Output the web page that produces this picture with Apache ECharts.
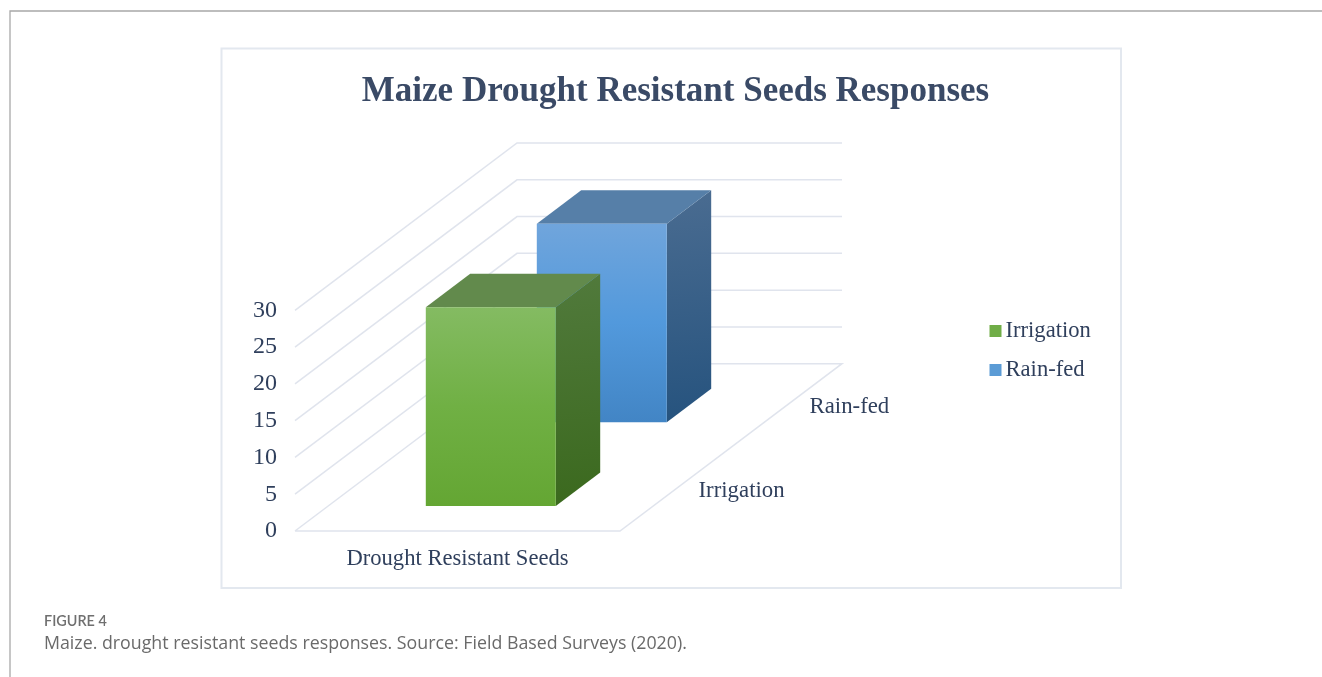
<!DOCTYPE html>
<html>
<head>
<meta charset="utf-8">
<style>html,body{margin:0;padding:0;background:#fff}#c{width:1322px;height:677px}</style>
<script src="https://cdn.jsdelivr.net/npm/echarts@6/dist/echarts.min.js"></script>
</head>
<body>
<div id="c"></div>
<script>
const chartTitle = 'Maize Drought Resistant Seeds Responses';
const categories = ['Drought Resistant Seeds'];
const depthCategories = ['Irrigation', 'Rain-fed'];
const irrigationValues = [27];
const rainFedValues = [27];
const yTicks = [0, 5, 10, 15, 20, 25, 30];
const figureLabel = 'FIGURE 4';
const captionText = 'Maize. drought resistant seeds responses. Source: Field Based Surveys (2020).';

const TEXT = '#2f3f5c';
const SERIF = '"Liberation Serif", serif';
const DEPTH_DX = 222, DEPTH_DY = -167.3;   // screen shift of the full floor depth
const BAR_WIDTH = 0.4, BAR_DEPTH = 0.2;    // fractions of the floor's width / depth
const vGrad = (stops) => new echarts.graphic.LinearGradient(0, 0, 0, 1, stops.map((c, i) => ({offset: i / (stops.length - 1), color: c})));
const dGrad = (a, b) => new echarts.graphic.LinearGradient(0, 0, 0.5, 1, [{offset: 0, color: a}, {offset: 1, color: b}]);

const project = (api, xFrac, value, z) => {
  const p = api.coord([0, value]);
  const bw = api.size([1, 0])[0];
  return [p[0] + (xFrac - 0.5) * bw + z * DEPTH_DX, p[1] + z * DEPTH_DY];
};
const depthCentre = (i) => (i + 0.5) / depthCategories.length;

function renderWall(params, api) {
  const v = api.value(0);
  const pts = [project(api, 0, v, 0), project(api, 0, v, 1), project(api, 1, v, 1)];
  if (v === 0) pts.push(project(api, 1, 0, 0), project(api, 0, 0, 0));
  return {type: 'polyline', shape: {points: pts}, silent: true,
    style: {stroke: '#e0e4ed', lineWidth: 1.5, fill: null}};
}

function barRenderer(face) {
  return function (params, api) {
    const value = api.value(1);
    const zc = depthCentre(api.value(2));
    const x0 = 0.5 - BAR_WIDTH / 2, x1 = 0.5 + BAR_WIDTH / 2;
    const z0 = zc - BAR_DEPTH / 2, z1 = zc + BAR_DEPTH / 2;
    const P = (x, v, z) => project(api, x, v, z);
    return {type: 'group', children: [
      {type: 'polygon', shape: {points: [P(x1, 0, z0), P(x1, 0, z1), P(x1, value, z1), P(x1, value, z0)]},
        style: {fill: face.side}},
      {type: 'polygon', shape: {points: [P(x0, value, z0), P(x1, value, z0), P(x1, value, z1), P(x0, value, z1)]},
        style: {fill: face.top}},
      {type: 'polygon', shape: {points: [P(x0, 0, z0), P(x1, 0, z0), P(x1, value, z0), P(x0, value, z0)]},
        style: {fill: face.front}}
    ]};
  };
}

function renderDepthLabel(params, api) {
  const i = api.value(0);
  const p = project(api, 1, 0, depthCentre(i));
  return {type: 'text', silent: true, x: p[0] + 23, y: p[1] + 1.5,
    style: {text: depthCategories[i], fill: TEXT, font: '22.8px ' + SERIF, textAlign: 'left', textVerticalAlign: 'middle'}};
}

const greenFace = {
  front: vGrad(['#84bb62', '#70b044', '#64a633']),
  top: '#628a4c',
  side: dGrad('#517a3c', '#3b691e')
};
const blueFace = {
  front: vGrad(['#70a5dc', '#5299dc', '#4285c5']),
  top: '#567fa8',
  side: dGrad('#4a6c91', '#26537e')
};

const option = {
  backgroundColor: '#fff',
  animation: false,
  title: {
    text: chartTitle, left: 675.5 - 5, top: 69, textAlign: 'center',
    textStyle: {fontFamily: SERIF, fontWeight: 'bold', fontSize: 35, color: '#3a4a66'}
  },
  legend: {
    data: depthCategories, orient: 'vertical', left: 984.5, top: 314,
    itemWidth: 12, itemHeight: 12, itemGap: 15, icon: 'rect', selectedMode: false,
    textStyle: {fontFamily: SERIF, fontSize: 22.6, color: TEXT, padding: [0, 0, 0, -1], lineHeight: 24}
  },
  grid: {left: 295, width: 325, top: 310.3, height: 220.7},
  xAxis: {
    type: 'category', data: categories,
    axisLine: {show: false}, axisTick: {show: false}, splitLine: {show: false},
    axisLabel: {fontFamily: SERIF, fontSize: 22.6, color: TEXT, margin: 17}
  },
  yAxis: {
    type: 'value', min: 0, max: 30, interval: 5,
    axisLine: {show: false}, axisTick: {show: false}, splitLine: {show: false},
    axisLabel: {fontFamily: SERIF, fontSize: 24, color: TEXT, margin: 18}
  },
  series: [
    {type: 'custom', name: 'walls', silent: true, z: 1, renderItem: renderWall,
      encode: {y: 0}, data: yTicks.map(v => [v])},
    {type: 'custom', name: depthCategories[1], z: 2, renderItem: barRenderer(blueFace),
      itemStyle: {color: '#5b9bd5'}, encode: {x: 0, y: 1},
      data: rainFedValues.map((v, i) => [i, v, 1])},
    {type: 'custom', name: depthCategories[0], z: 3, renderItem: barRenderer(greenFace),
      itemStyle: {color: '#70ad47'}, encode: {x: 0, y: 1},
      data: irrigationValues.map((v, i) => [i, v, 0])},
    {type: 'custom', name: 'depthLabels', silent: true, z: 4, renderItem: renderDepthLabel,
      encode: {}, data: depthCategories.map((c, i) => [i])}
  ],
  graphic: [
    {type: 'rect', z: -1, shape: {x: 221.5, y: 48.5, width: 899.5, height: 539.5},
      style: {fill: '#fff', stroke: '#e3e8ef', lineWidth: 2}},
    {type: 'polyline', z: -1, shape: {points: [[10, 677], [10, 11], [1322, 11]]},
      style: {stroke: '#a8a8a8', lineWidth: 1.3, fill: null}},
    {type: 'text', x: 44, y: 621.5, style: {text: figureLabel, fill: '#6f6f6f',
      font: '600 14.4px Lato, sans-serif', textVerticalAlign: 'middle'}},
    {type: 'text', x: 44, y: 644, style: {text: captionText, fill: '#6a6a6a',
      font: '17.8px "Open Sans", sans-serif', textVerticalAlign: 'middle'}}
  ]
};
const chart = echarts.init(document.getElementById('c'), null, {renderer: 'canvas'});
chart.setOption(option);
</script>
</body>
</html>
